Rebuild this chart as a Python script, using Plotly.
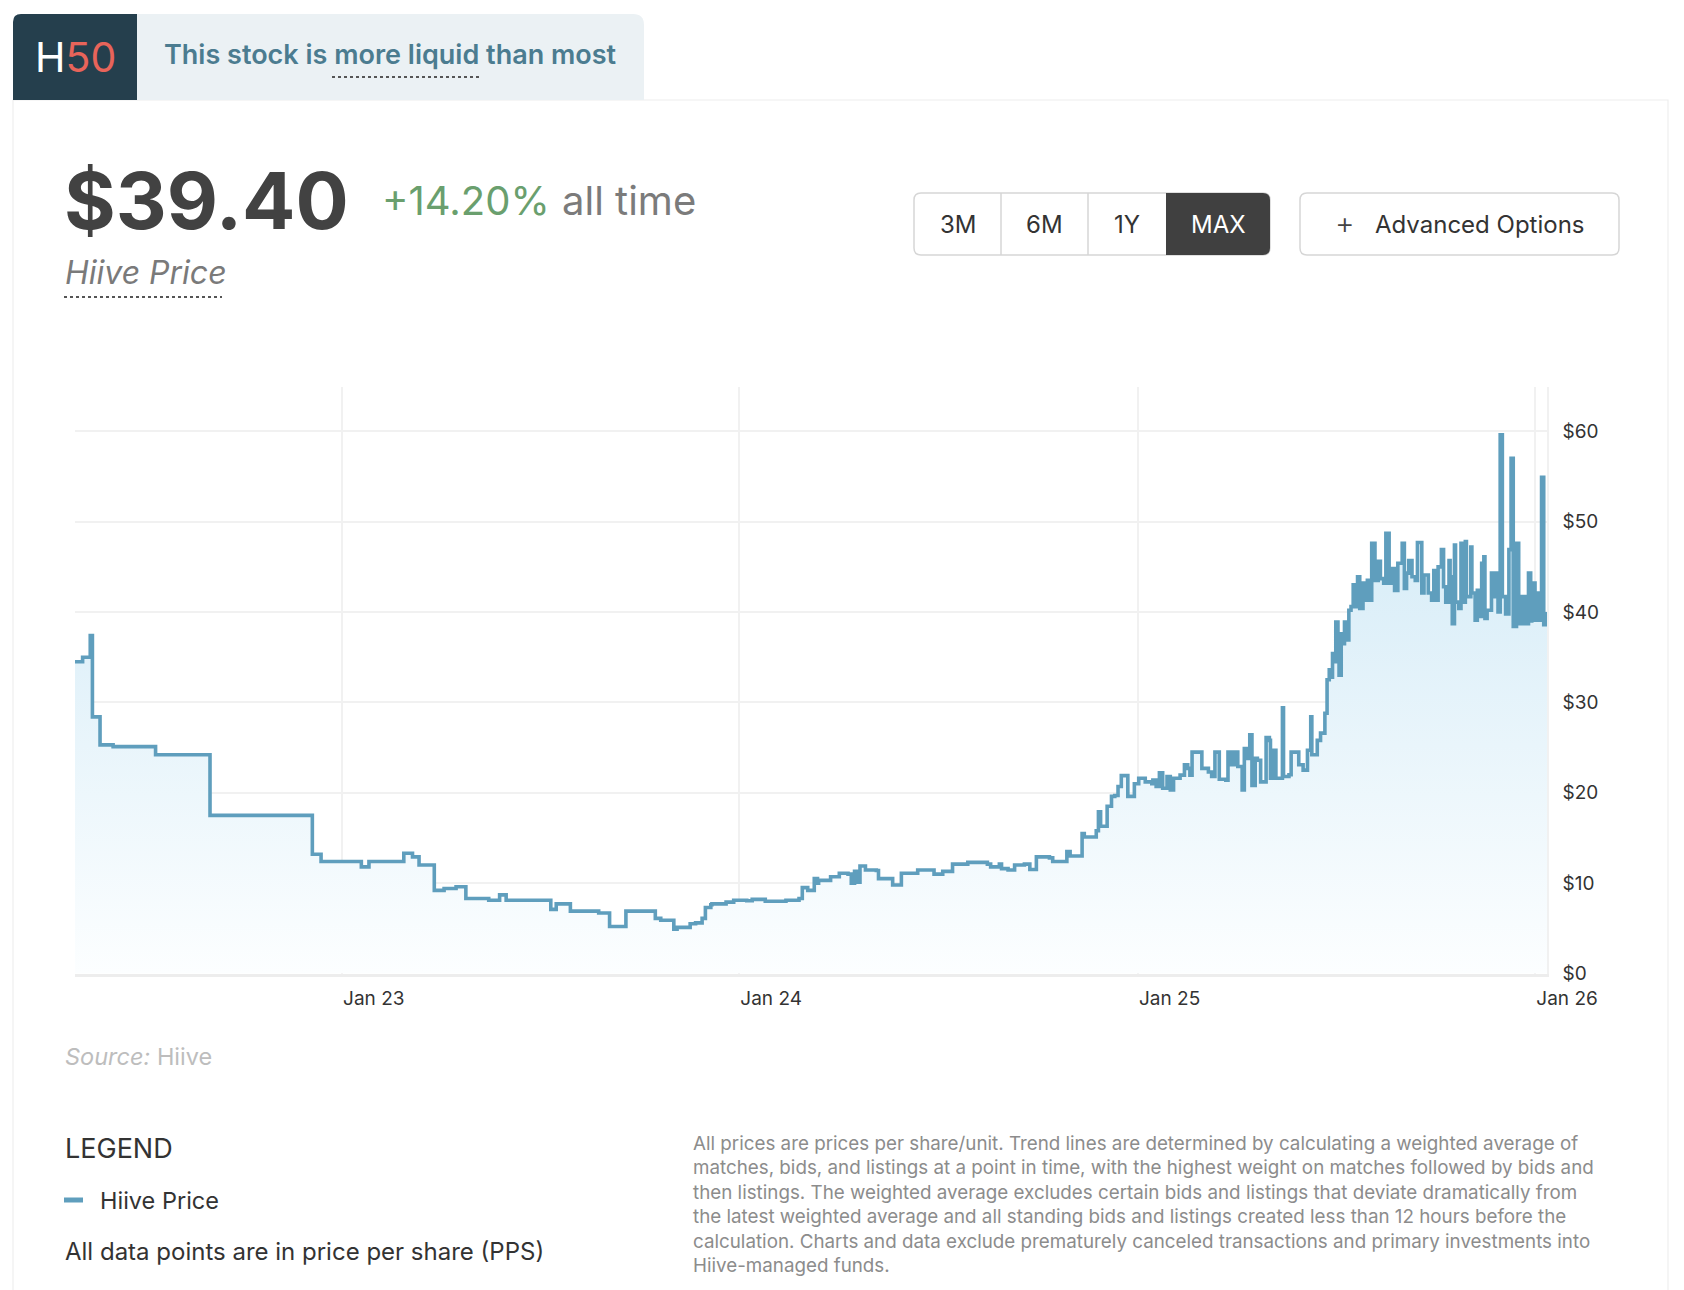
import plotly.graph_objects as go

W, H = 1684, 1290

# ---------------- data ----------------
dates = [
    "2022-05-01", "2022-05-08", "2022-05-15", "2022-05-17", "2022-05-24", "2022-06-05",
    "2022-07-14", "2022-09-02", "2022-12-05", "2022-12-13",
    "2023-01-19", "2023-01-26", "2023-02-27", "2023-03-07", "2023-03-13", "2023-03-27",
    "2023-04-05", "2023-04-16", "2023-04-25", "2023-05-16", "2023-05-26", "2023-06-01",
    "2023-07-12", "2023-07-17", "2023-07-30", "2023-08-25", "2023-09-04", "2023-09-19",
    "2023-10-16", "2023-10-21", "2023-11-02", "2023-11-05", "2023-11-17", "2023-11-22",
    "2023-11-28", "2023-12-01", "2023-12-06", "2023-12-07", "2023-12-20", "2023-12-27",
    "2024-01-08", "2024-01-13", "2024-01-25", "2024-02-13", "2024-02-25", "2024-02-28",
    "2024-03-04", "2024-03-10", "2024-03-13", "2024-03-14", "2024-03-25", "2024-04-02",
    "2024-04-10", "2024-04-13", "2024-04-16", "2024-04-19", "2024-04-21", "2024-04-26",
    "2024-05-06", "2024-05-08", "2024-05-21", "2024-05-29", "2024-06-13", "2024-06-28",
    "2024-07-06", "2024-07-15", "2024-07-29", "2024-08-16", "2024-08-19", "2024-08-27",
    "2024-08-29", "2024-09-04", "2024-09-10", "2024-09-19", "2024-09-24", "2024-09-30",
    "2024-10-12", "2024-10-15", "2024-10-28", "2024-10-31", "2024-11-11", "2024-11-13",
    "2024-11-24", "2024-11-26", "2024-11-28", "2024-12-04", "2024-12-08", "2024-12-11",
    "2024-12-14", "2024-12-17", "2024-12-23", "2024-12-29",
    "2025-01-02", "2025-01-08", "2025-01-14", "2025-01-15", "2025-01-18", "2025-01-21",
    "2025-01-24", "2025-01-28", "2025-01-31", "2025-02-03", "2025-02-09", "2025-02-13",
    "2025-02-16", "2025-02-18", "2025-02-20", "2025-03-01", "2025-03-07", "2025-03-10",
    "2025-03-13", "2025-03-17", "2025-03-23", "2025-03-25", "2025-03-28", "2025-03-31",
    "2025-04-03", "2025-04-07", "2025-04-09", "2025-04-12", "2025-04-14", "2025-04-16",
    "2025-04-19", "2025-04-21", "2025-04-24", "2025-04-29", "2025-05-02", "2025-05-03",
    "2025-05-06", "2025-05-08", "2025-05-14", "2025-05-15", "2025-05-20", "2025-05-22",
    "2025-05-29", "2025-06-02", "2025-06-06", "2025-06-09", "2025-06-10", "2025-06-15",
    "2025-06-18", "2025-06-22", "2025-06-24", "2025-06-26", "2025-06-27", "2025-06-29",
    "2025-07-01", "2025-07-02", "2025-07-04", "2025-07-05", "2025-07-07", "2025-07-09",
    "2025-07-10", "2025-07-12", "2025-07-14", "2025-07-16", "2025-07-18", "2025-07-20",
    "2025-07-22", "2025-07-24", "2025-07-27", "2025-07-29", "2025-07-31", "2025-08-03",
    "2025-08-04", "2025-08-07", "2025-08-10", "2025-08-12", "2025-08-15", "2025-08-17",
    "2025-08-20", "2025-08-23", "2025-08-25", "2025-08-28", "2025-09-01", "2025-09-03",
    "2025-09-05", "2025-09-07", "2025-09-10", "2025-09-13", "2025-09-15", "2025-09-19",
    "2025-09-21", "2025-09-25", "2025-09-28", "2025-09-30", "2025-10-02", "2025-10-04",
    "2025-10-07", "2025-10-09", "2025-10-11", "2025-10-14", "2025-10-15", "2025-10-17",
    "2025-10-19", "2025-10-20", "2025-10-23", "2025-10-25", "2025-10-27", "2025-10-29",
    "2025-10-30", "2025-11-03", "2025-11-04", "2025-11-07", "2025-11-09", "2025-11-12",
    "2025-11-13", "2025-11-15", "2025-11-16", "2025-11-18", "2025-11-22", "2025-11-24",
    "2025-11-25", "2025-11-28", "2025-11-30", "2025-12-02", "2025-12-05", "2025-12-08",
    "2025-12-10", "2025-12-12", "2025-12-15", "2025-12-17", "2025-12-20", "2025-12-23",
    "2025-12-26", "2025-12-28", "2025-12-29",
    "2026-01-01", "2026-01-03", "2026-01-05", "2026-01-07", "2026-01-09", "2026-01-11",
    "2026-01-12",
]

prices = [
    34.5, 35.0, 37.4, 28.4, 25.3, 25.1,
    24.2, 17.5, 13.2, 12.4,
    11.8, 12.4, 13.3, 12.9, 12.0, 9.2,
    9.4, 9.6, 8.3, 8.1, 8.7, 8.1,
    7.1, 7.7, 6.9, 6.7, 5.2, 6.9,
    6.1, 5.9, 4.9, 5.1, 5.5, 5.6,
    6.1, 7.3, 7.6, 7.7, 7.9, 8.1,
    8.05, 8.2, 8.0, 8.1, 8.3, 9.5,
    9.2, 10.5, 10.0, 10.3, 10.7, 11.1,
    11.0, 10.0, 11.3, 10.1, 11.9, 11.45,
    11.4, 10.5, 9.8, 11.1, 11.45, 11.0,
    11.3, 12.1, 12.3, 12.1, 11.8, 12.1,
    11.6, 11.45, 12.0, 12.1, 11.5, 12.9,
    12.8, 12.4, 13.5, 13.0, 15.5, 15.1,
    15.8, 17.9, 16.3, 18.5, 19.6, 19.7,
    20.7, 21.9, 19.6, 21.0,
    21.6, 21.2, 21.0, 21.4, 20.7, 22.2,
    20.5, 21.8, 20.3, 21.6, 21.95, 23.1,
    22.7, 21.95, 24.5, 22.7, 22.3, 21.8,
    24.5, 21.5, 21.4, 24.5, 23.1, 24.5,
    22.9, 20.3, 24.9, 23.8, 26.4, 20.8,
    23.8, 23.6, 21.2, 26.1, 25.8, 21.6,
    24.7, 21.6, 29.4, 21.8, 22.0, 24.5,
    23.1, 22.5, 24.7, 28.4, 24.2, 25.8,
    26.6, 28.8, 32.5, 33.6, 32.8, 35.4,
    34.5, 38.9, 35.8, 33.0, 37.6, 36.5,
    38.9, 36.9, 40.2, 40.6, 43.0, 40.6,
    43.9, 40.4, 43.2, 41.3, 43.5, 41.3,
    47.6, 43.5, 45.6, 43.7, 43.2, 48.7,
    43.2, 44.8, 42.4, 45.4, 47.6, 42.6,
    44.3, 45.7, 43.9, 43.5, 47.7, 42.1,
    44.1, 42.1, 41.3, 44.6, 41.3, 45.0,
    46.9, 42.8, 41.1, 45.7, 43.9, 38.7,
    47.4, 41.1, 40.4, 47.6, 41.1, 47.8,
    41.7, 47.2, 42.1, 39.1, 42.4, 39.5,
    45.4, 46.1, 39.3, 40.2, 44.3, 41.7,
    44.3, 40.0, 59.6, 41.7, 39.8, 46.9,
    57.0, 38.4, 47.6, 38.7, 41.7, 38.7,
    44.3, 39.0, 43.2,
    39.1, 42.1, 39.1, 54.9, 38.6, 39.8,
    39.4,
]

x_tick_vals = ["2023-01-01", "2024-01-01", "2025-01-01", "2026-01-01"]
x_tick_text = ["Jan 23", "Jan 24", "Jan 25", "Jan 26"]
y_tick_vals = [0, 10, 20, 30, 40, 50, 60]
y_tick_text = ["$0", "$10", "$20", "$30", "$40", "$50", "$60"]
x_range = ["2022-05-01", "2026-01-12"]
y_range = [0, 64.9]

footnote_lines = [
    "All prices are prices per share/unit. Trend lines are determined by calculating a weighted average of",
    "matches, bids, and listings at a point in time, with the highest weight on matches followed by bids and",
    "then listings. The weighted average excludes certain bids and listings that deviate dramatically from",
    "the latest weighted average and all standing bids and listings created less than 12 hours before the",
    "calculation. Charts and data exclude prematurely canceled transactions and primary investments into",
    "Hiive-managed funds.",
]

# ---------------- styles ----------------
LINE = "#5F9EBD"
FONT = "Inter"
GRID = "#F1F1F1"
BORDER = "#D6D6D6"


def px(x):
    return x / W


def py(y):
    return 1 - y / H


def P(x, y):
    return f"{px(x):.6f},{py(y):.6f}"


def rrect(x0, y0, x1, y1, tl=0, tr=0, br=0, bl=0):
    d = f"M {P(x0 + tl, y0)} L {P(x1 - tr, y0)}"
    if tr:
        d += f" Q {P(x1, y0)} {P(x1, y0 + tr)}"
    d += f" L {P(x1, y1 - br)}"
    if br:
        d += f" Q {P(x1, y1)} {P(x1 - br, y1)}"
    d += f" L {P(x0 + bl, y1)}"
    if bl:
        d += f" Q {P(x0, y1)} {P(x0, y1 - bl)}"
    d += f" L {P(x0, y0 + tl)}"
    if tl:
        d += f" Q {P(x0, y0)} {P(x0 + tl, y0)}"
    return d + " Z"


def path_shape(d, fill=None, line=None, lw=0):
    s = dict(type="path", path=d, xref="paper", yref="paper", layer="above")
    s["fillcolor"] = fill if fill else "rgba(0,0,0,0)"
    s["line"] = dict(color=line if line else "rgba(0,0,0,0)", width=lw)
    return s


def line_shape(x0, y0, x1, y1, color, width=1.5, dash="solid"):
    return dict(type="line", xref="paper", yref="paper", x0=px(x0), y0=py(y0),
                x1=px(x1), y1=py(y1), line=dict(color=color, width=width, dash=dash))


def ann(text, x, y, size, color, xanchor="left", yanchor="middle", weight=None,
        style=None, align="left"):
    f = dict(size=size, color=color, family=FONT)
    if weight is not None:
        f["weight"] = weight
    if style is not None:
        f["style"] = style
    return dict(text=text, x=px(x), y=py(y), xref="paper", yref="paper",
                xanchor=xanchor, yanchor=yanchor, showarrow=False, font=f,
                align=align, borderpad=0)


# ---------------- figure ----------------
fig = go.Figure()
fig.add_trace(go.Scatter(
    x=dates, y=prices, mode="lines",
    line=dict(color=LINE, width=3.6, shape="hv"),
    fill="tozeroy",
    fillgradient=dict(type="vertical", colorscale=[[0, "#FCFEFF"], [1, "#DAEEF8"]],
                      start=0, stop=45),
    hoverinfo="skip", name="Hiive Price",
))

shapes = [
    # card outline
    dict(type="rect", xref="paper", yref="paper", x0=px(13), x1=px(1668),
         y0=py(100), y1=py(H + 10), line=dict(color="#EEEEEE", width=1.2),
         fillcolor="rgba(0,0,0,0)", layer="below"),
    # badge
    path_shape(rrect(137, 14, 644, 100, tr=11), fill="#EBF1F4"),
    path_shape(rrect(13, 14, 137, 100, tl=8), fill="#253F4D"),
    line_shape(332, 77, 479, 77, "#555555", 2, "dot"),
    line_shape(64, 297, 222, 297, "#555555", 2, "dot"),
    # range buttons
    path_shape(rrect(914, 193, 1270, 255, 7, 7, 7, 7), fill="white", line=BORDER, lw=1.5),
    path_shape(rrect(1166, 193, 1270, 255, 0, 7, 7, 0), fill="#404040"),
    line_shape(1001, 193, 1001, 255, BORDER, 1.5),
    line_shape(1088, 193, 1088, 255, BORDER, 1.5),
    path_shape(rrect(1300, 193, 1619, 255, 7, 7, 7, 7), fill="white", line=BORDER, lw=1.5),
    # legend swatch
    dict(type="rect", xref="paper", yref="paper", x0=px(64), x1=px(83),
         y0=py(1197.5), y1=py(1202.5), line=dict(width=0), fillcolor=LINE),
]

annotations = [
    ann("H<span style='color:#E8645A'>50</span>", 75, 57, 41, "#FFFFFF", xanchor="center"),
    ann("This stock is more liquid than most", 163, 55, 27, "#4B7C90", weight=600),
    ann("$39.40", 63, 200, 79, "#424242", weight=700),
    ann("+14.20%", 381, 200, 40, "#6A9F6E"),
    ann("all time", 561, 200, 40, "#7B7B7B"),
    ann("Hiive Price", 64, 273, 32, "#7A7A7A", style="italic"),
    ann("3M", 958, 224, 24, "#333333", xanchor="center"),
    ann("6M", 1044, 224, 24, "#333333", xanchor="center"),
    ann("1Y", 1127, 224, 24, "#333333", xanchor="center"),
    ann("MAX", 1218, 224, 24, "#FFFFFF", xanchor="center"),
    ann("+", 1345, 223, 30, "#444444", xanchor="center", weight=300),
    ann("Advanced Options", 1374, 224, 24, "#333333"),
    ann("<i>Source:</i> Hiive", 64, 1056, 23.5, "#BDBDBD"),
    ann("LEGEND", 64, 1148, 27, "#333333"),
    ann("Hiive Price", 99, 1200, 23.5, "#333333"),
    ann("All data points are in price per share (PPS)", 64, 1251, 24, "#333333"),
    ann("<br>".join(footnote_lines), 692, 1131, 18.8, "#8C8C8C", yanchor="top"),
]

fig.update_layout(
    width=W, height=H,
    margin=dict(l=0, r=0, t=0, b=0),
    paper_bgcolor="white", plot_bgcolor="white",
    showlegend=False, hovermode=False,
    font=dict(family=FONT),
    shapes=shapes, annotations=annotations,
    xaxis=dict(
        type="date", range=x_range, domain=[px(75), px(1547)],
        tickmode="array", tickvals=x_tick_vals, ticktext=x_tick_text,
        showgrid=True, gridcolor=GRID, gridwidth=1.5,
        showline=True, linecolor="#EDEDED", linewidth=3,
        ticks="outside", ticklen=6, tickcolor="rgba(0,0,0,0)",
        tickfont=dict(family=FONT, size=19, color="#333333"),
        ticklabelshift=32, zeroline=False, automargin=False, fixedrange=True,
    ),
    yaxis=dict(
        range=y_range, domain=[py(973.5), py(387)], side="right",
        tickmode="array", tickvals=y_tick_vals, ticktext=y_tick_text,
        showgrid=True, gridcolor=GRID, gridwidth=1.5,
        showline=True, linecolor=GRID, linewidth=1.5,
        ticks="outside", ticklen=10, tickcolor="rgba(0,0,0,0)",
        tickfont=dict(family=FONT, size=19, color="#333333"),
        zeroline=False, automargin=False, fixedrange=True,
    ),
)

fig.write_html("out.html", config={"displayModeBar": False},
               post_script="document.body.style.margin='0px';")
